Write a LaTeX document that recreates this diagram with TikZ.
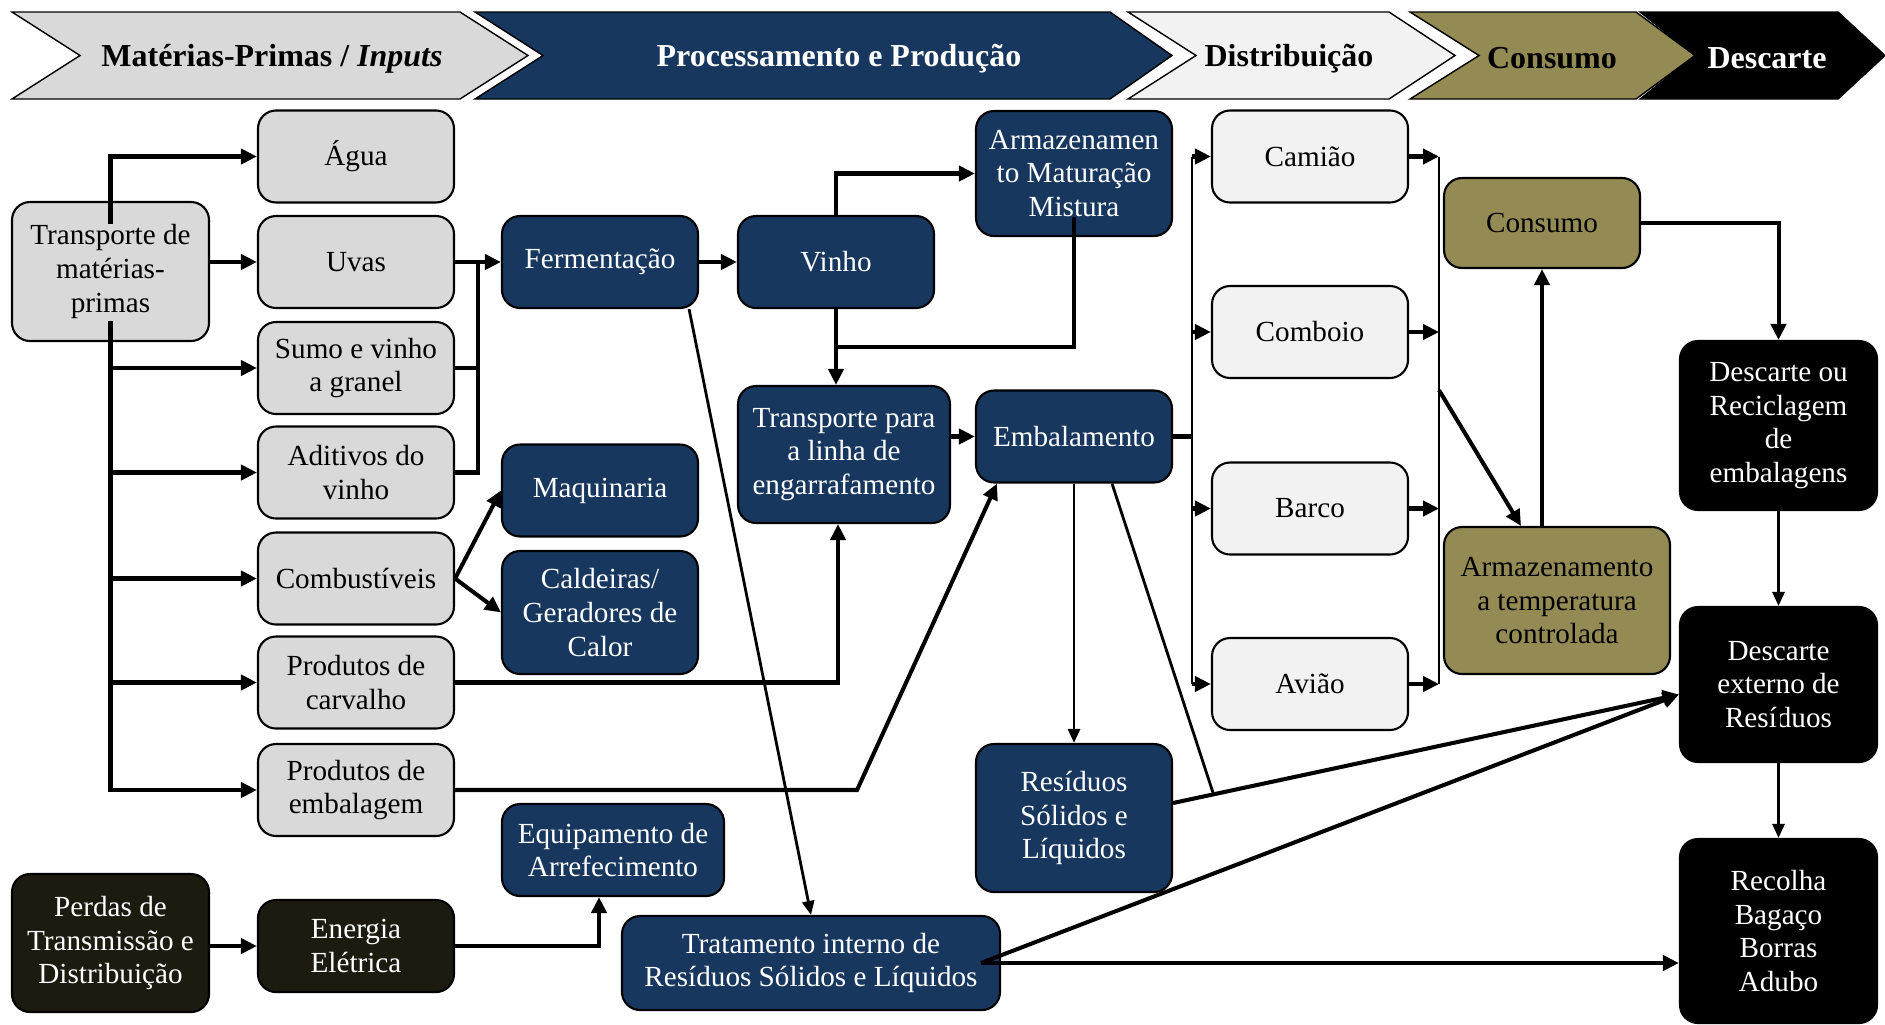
\documentclass[tikz,border=0pt]{standalone}
\usepackage{fontspec}
\setmainfont{Liberation Serif}
\usetikzlibrary{arrows.meta,calc}

\definecolor{inputgray}{HTML}{D9D9D9}
\definecolor{procnavy}{HTML}{17375E}
\definecolor{distgray}{HTML}{F2F2F2}
\definecolor{consolive}{HTML}{948A54}
\definecolor{energydark}{HTML}{1D1B10}

\tikzset{
  box/.style={draw=black, line width=0.6pt, rounded corners=0.18cm, align=center,
    minimum width=1.96cm, minimum height=0.92cm, inner sep=0pt,
    font=\fontsize{8.3}{9.6}\selectfont},
  graybox/.style={box, fill=inputgray},
  navybox/.style={box, fill=procnavy, text=white},
  distbox/.style={box, fill=distgray},
  olivebox/.style={box, fill=consolive},
  darkbox/.style={box, fill=energydark, text=white},
  blackbox/.style={box, fill=black, text=white},
  headtext/.style={font=\fontsize{9.1}{11}\selectfont\bfseries},
  wire/.style={line width=1.15pt},
  thinwire/.style={line width=0.8pt},
  link/.style={wire, -{Triangle[length=0.16cm,width=0.15cm]}},
  thinlink/.style={thinwire, -{Triangle[length=0.14cm,width=0.12cm]}}
}

\begin{document}
\begin{tikzpicture}
\useasboundingbox (0,0) rectangle (18.85,-10.24);

\draw[fill=inputgray] (0.12,-0.12) -- (4.60,-0.12) -- (5.28,-0.555) -- (4.60,-0.99) -- (0.12,-0.99) -- (0.80,-0.555) -- cycle;
\draw[fill=procnavy] (4.75,-0.12) -- (11.10,-0.12) -- (11.72,-0.555) -- (11.10,-0.99) -- (4.75,-0.99) -- (5.43,-0.555) -- cycle;
\draw[fill=distgray] (11.28,-0.12) -- (13.89,-0.12) -- (14.55,-0.555) -- (13.89,-0.99) -- (11.28,-0.99) -- (11.96,-0.555) -- cycle;
\draw[fill=consolive] (14.10,-0.12) -- (16.36,-0.12) -- (16.95,-0.555) -- (16.36,-0.99) -- (14.10,-0.99) -- (14.79,-0.555) -- cycle;
\draw[fill=black] (16.40,-0.12) -- (18.38,-0.12) -- (18.85,-0.555) -- (18.38,-0.99) -- (16.40,-0.99) -- (16.95,-0.555) -- cycle;

\node[headtext] (hinput) at (2.72,-0.585) {Matérias-Primas / \textit{Inputs}};
\node[headtext, text=white] (hproc) at (8.39,-0.585) {Processamento e Produção};
\node[headtext] (hdist) at (12.89,-0.585) {Distribuição};
\node[headtext] (hcons) at (15.52,-0.585) {Consumo};
\node[headtext, text=white] (hdesc) at (17.67,-0.585) {Descarte};

\node[graybox, minimum width=1.97cm, minimum height=1.39cm] (trans) at (1.105,-2.715) {Transporte de\\matérias-\\primas};
\node[darkbox, minimum width=1.97cm, minimum height=1.38cm] (perdas) at (1.105,-9.43) {Perdas de\\Transmissão e\\Distribuição};

\node[graybox] (agua) at (3.56,-1.565) {Água};
\node[graybox] (uvas) at (3.56,-2.62) {Uvas};
\node[graybox] (sumo) at (3.56,-3.68) {Sumo e vinho\\a granel};
\node[graybox] (adit) at (3.56,-4.725) {Aditivos do\\vinho};
\node[graybox] (comb) at (3.56,-5.785) {Combustíveis};
\node[graybox] (carv) at (3.56,-6.825) {Produtos de\\carvalho};
\node[graybox] (pemb) at (3.56,-7.90) {Produtos de\\embalagem};
\node[darkbox] (energia) at (3.56,-9.46) {Energia\\Elétrica};

\node[navybox] (ferm) at (6.00,-2.62) {Fermentação};
\node[navybox] (maq) at (6.00,-4.905) {Maquinaria};
\node[navybox, minimum height=1.23cm] (cald) at (6.00,-6.125) {Caldeiras/\\Geradores de\\Calor};
\node[navybox, minimum width=2.22cm] (equip) at (6.13,-8.50) {Equipamento de\\Arrefecimento};
\node[navybox, minimum width=3.78cm, minimum height=0.94cm] (trat) at (8.11,-9.63) {Tratamento interno de\\Resíduos Sólidos e Líquidos};

\node[navybox] (vinho) at (8.36,-2.62) {Vinho};
\node[navybox, minimum width=2.12cm, minimum height=1.37cm] (transp) at (8.44,-4.545) {Transporte para\\a linha de\\engarrafamento};

\node[navybox, minimum height=1.25cm] (arm) at (10.74,-1.735) {Armazenamen\\to Maturação\\Mistura};
\node[navybox] (embal) at (10.74,-4.365) {Embalamento};
\node[navybox, minimum height=1.48cm] (resid) at (10.74,-8.18) {Resíduos\\Sólidos e\\Líquidos};

\node[distbox] (camiao) at (13.10,-1.565) {Camião};
\node[distbox] (comboio) at (13.10,-3.32) {Comboio};
\node[distbox] (barco) at (13.10,-5.085) {Barco};
\node[distbox] (aviao) at (13.10,-6.84) {Avião};

\node[olivebox, minimum height=0.90cm] (consumo) at (15.42,-2.23) {Consumo};
\node[olivebox, minimum width=2.26cm, minimum height=1.47cm] (armtemp) at (15.57,-6.005) {Armazenamento\\a temperatura\\controlada};

\node[blackbox, minimum width=1.97cm, minimum height=1.69cm] (descrec) at (17.785,-4.255) {Descarte ou\\Reciclagem\\de\\embalagens};
\node[blackbox, minimum width=1.97cm, minimum height=1.55cm] (descext) at (17.785,-6.845) {Descarte\\externo de\\Resíduos};
\node[blackbox, minimum width=1.97cm, minimum height=1.84cm] (recolha) at (17.785,-9.31) {Recolha\\Bagaço\\Borras\\Adubo};

% materias-primas
\draw[link] ([yshift=-0.23cm]trans.north) |- (agua.west);
\draw[link] (trans.east |- uvas.west) -- (uvas.west);
\draw[link] ([yshift=0.21cm]trans.south) |- (pemb.west);
\foreach \n in {sumo,adit,comb,carv}
  \draw[link] (trans.south |- \n.west) -- (\n.west);

\coordinate (fcol) at ($(uvas.east)!0.5!(ferm.west)$);
\draw[link] (uvas.east) -- (ferm.west);
\draw[wire] (sumo.east) -- (sumo.east -| fcol);
\draw[wire] (adit.east) -| (fcol);
\draw[link] (comb.east) -- (maq.west);
\draw[link] (comb.east) -- (cald.west);
\draw[link] (carv.east) -| ([xshift=-0.06cm]transp.south);
\draw[link] (pemb.east) -- ++(4.02,0) -- ([xshift=0.22cm]embal.south west);
\draw[link] (perdas.east |- energia.west) -- (energia.west);
\draw[link] (energia.east) -| ([xshift=-0.14cm]equip.south);

% processamento
\draw[link] (ferm.east) -- (vinho.west);
\draw[link] (vinho.north) |- (arm.west);
\draw[link] (vinho.south) -- (vinho.south |- transp.north);
\draw[wire] ([yshift=0.2cm]arm.south) |- ($(vinho.south)!0.5!(vinho.south |- transp.north)$);
\draw[link] (transp.east |- embal.west) -- (embal.west);
\draw[thinlink] ([xshift=-0.1cm]ferm.south east) -- (trat.north);
\draw[thinlink] (embal.south) -- (resid.north);

\coordinate (extin) at ([yshift=-0.1cm]descext.west);
\draw[link] ([yshift=0.15cm]resid.east) -- (extin);
\draw[thinwire] ([xshift=0.38cm]embal.south) -- ($([yshift=0.15cm]resid.east)!0.08!(extin)$);
\draw[link] ([xshift=-0.2cm]trat.east) -- (extin);
\draw[link] ([xshift=-0.2cm]trat.east) -- (trat.east -| recolha.west);

% distribuicao
\coordinate (dleft) at ($(embal.east)!0.5!(camiao.west)$);
\coordinate (dright) at ([xshift=0.3cm]camiao.east);
\draw[wire] (embal.east) -- (embal.east -| dleft);
\draw[thinwire] (dleft |- camiao.west) -- (dleft |- aviao.west);
\draw[thinwire] (dright |- camiao.east) -- (dright |- aviao.east);
\foreach \n in {camiao,comboio,barco,aviao} {
  \draw[link] (dleft |- \n.west) -- (\n.west);
  \draw[link] (\n.east) -- (dright |- \n.east);
}

% consumo e descarte
\draw[link] ($(dright |- comboio.east)!0.33!(dright |- barco.east)$) -- ([xshift=-0.36cm]armtemp.north);
\draw[link] (consumo.south |- armtemp.north) -- (consumo.south);
\draw[link] (consumo.east) -| (descrec.north);
\draw[thinlink] (descrec.south) -- (descext.north);
\draw[thinlink] ([yshift=0.5cm]descext.south) -- (recolha.north);
\end{tikzpicture}
\end{document}
